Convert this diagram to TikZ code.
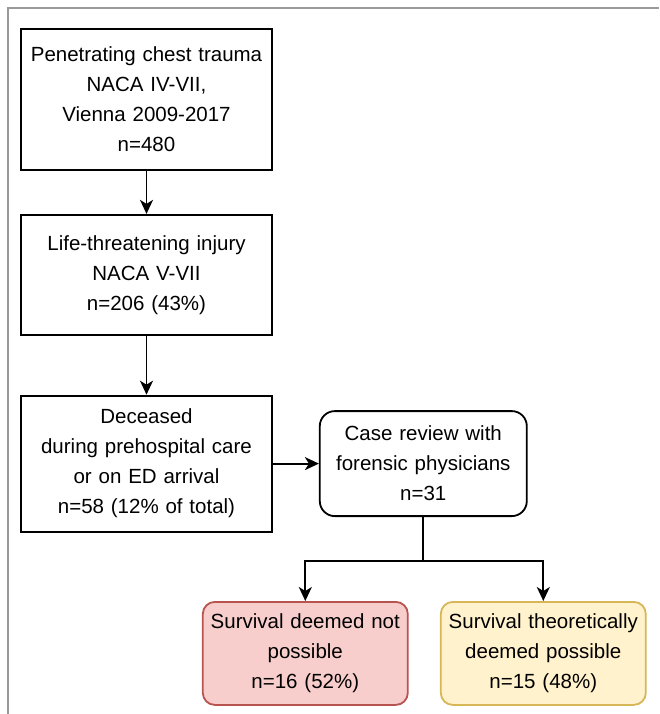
\documentclass[tikz,border=0pt]{standalone}
\usepackage{fontspec}
\setmainfont{Liberation Sans}
\usetikzlibrary{arrows.meta, positioning}
\definecolor{redfill}{HTML}{F8CECC}
\definecolor{redline}{HTML}{B85450}
\definecolor{yellowfill}{HTML}{FFF2CC}
\definecolor{yellowline}{HTML}{D6B656}
\tikzset{
  flownode/.style = {align=center, inner sep=0pt,
    font=\fontsize{20.5}{30}\selectfont},
  stepbox/.style = {flownode, draw=black, line width=1.8pt,
    text width=240pt, minimum width=251pt},% plain step
  reviewbox/.style = {flownode, draw=black, line width=1.8pt,
    rounded corners=15pt, text width=200pt, minimum width=207pt,
    minimum height=105pt},% case review
  outcome/.style = {flownode, line width=1.8pt, rounded corners=12pt,
    text width=196pt, minimum width=205pt, minimum height=103pt},
  flowarrow/.style = {line width=1.8pt,
    -{Stealth[length=14pt, width=13pt, inset=4pt]}}
}

\begin{document}
\begin{tikzpicture}[x=1pt, y=-1pt, node distance=43pt]
\useasboundingbox (0,0) rectangle (659,714);
\draw[line width=1.5pt, black!40] (8,714) -- (8,8) -- (659,8);

\node (trauma) [stepbox, minimum height=141pt] at (146.5,99.5)
  {Penetrating chest trauma\\NACA IV-VII,\\Vienna 2009-2017\\n=480};
\node (threat) [stepbox, minimum height=120pt, below=43pt of trauma]
  {Life-threatening injury\\NACA V-VII\\n=206 (43\%)};
\node (deceased) [stepbox, minimum height=136pt, below=59pt of threat]
  {Deceased\\during prehospital care\\or on ED arrival\\n=58 (12\% of total)};
\node (review) [reviewbox, right=46pt of deceased]
  {Case review with\\forensic physicians\\n=31};
\node (notpos) [outcome, fill=redfill, draw=redline,
  below=84pt of review, xshift=-118pt]
  {Survival deemed not\\possible\\n=16 (52\%)};
\node (possible) [outcome, fill=yellowfill, draw=yellowline,
  below=84pt of review, xshift=120pt]
  {Survival theoretically\\deemed possible\\n=15 (48\%)};

\draw[flowarrow] (trauma) -- (threat);
\draw[flowarrow] (threat) -- (deceased);
\draw[flowarrow] (deceased) -- (review);
\draw[flowarrow] (review.south) -- ++(0,44) -| (notpos.north);
\draw[flowarrow] (review.south) -- ++(0,44) -| (possible.north);
\end{tikzpicture}
\end{document}
